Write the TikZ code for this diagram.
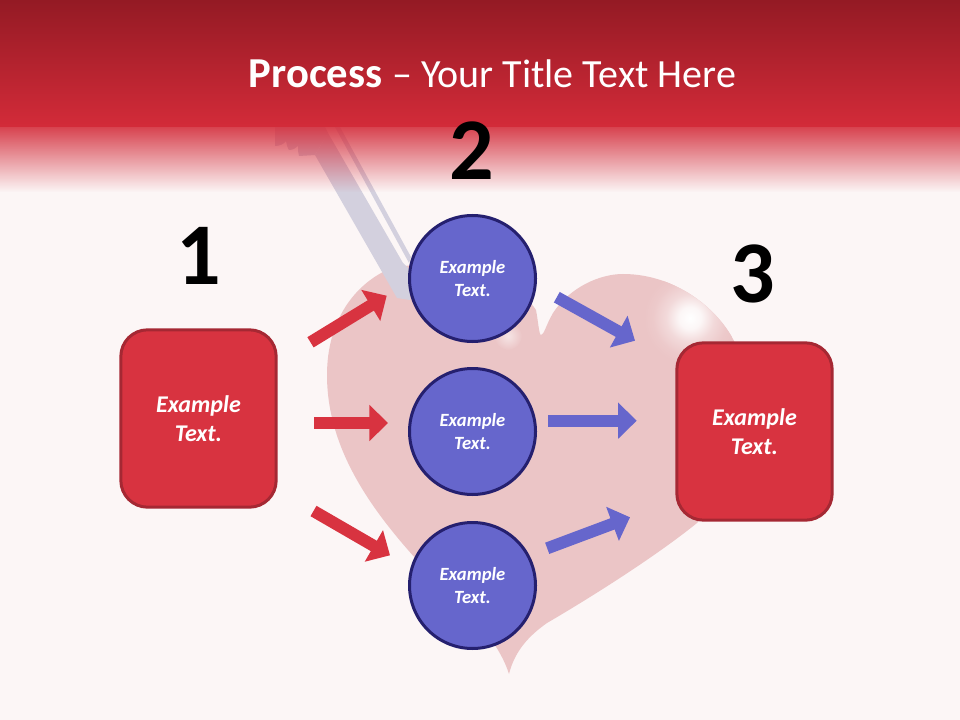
\documentclass[tikz,border=0pt]{standalone}
\usepackage{fontspec}
\setmainfont{Carlito}
\usepackage{xcolor}
\usepackage{tikz}
\usetikzlibrary{arrows.meta,fadings}
\definecolor{pagebg}{HTML}{FCF6F6}
\definecolor{bandtop}{HTML}{941A24}
\definecolor{bandlow}{HTML}{D32B39}
\definecolor{heartbg}{HTML}{EBC5C6}
\definecolor{shaftbg}{HTML}{D3D0DE}
\definecolor{redfill}{HTML}{D83340}
\definecolor{redline}{HTML}{A52833}
\definecolor{bluefill}{HTML}{6666CC}
\definecolor{blueline}{HTML}{25206F}
\tikzfading[name=bandfade, top color=transparent!12, bottom color=transparent!100]
\pgfdeclareradialshading{heartglow}{\pgfpointorigin}{
  color(0bp)=(white);
  color(6bp)=(white!85!heartbg);
  color(13bp)=(white!35!heartbg);
  color(20bp)=(white!8!heartbg);
  color(25bp)=(heartbg);
  color(50bp)=(heartbg)}
\def\heartpath{(509,674) .. controls (503,655) and (490,635) .. (470,615)
  .. controls (400,545) and (327,470) .. (327,375)
  .. controls (327,320) and (355,285) .. (387,270)
  .. controls (420,257) and (510,270) .. (536,310)
  .. controls (538,320) and (539,335) .. (541,335)
  .. controls (544,335) and (546,325) .. (553,313)
  .. controls (570,287) and (600,274) .. (623,274)
  .. controls (680,274) and (725,315) .. (738,350)
  .. controls (750,385) and (750,470) .. (697,523)
  .. controls (660,553) and (600,592) .. (547,623)
  .. controls (530,635) and (515,650) .. (509,674) -- cycle}
\tikzset{
  stepbox/.style={
    draw=redline, fill=redfill, line width=2.25pt, rounded corners=20pt,
    minimum width=116.5pt, minimum height=133pt, inner sep=0pt,
    text=white, align=center,
    font=\fontsize{18}{21.5}\selectfont\bfseries\itshape
  },
  ball/.style={
    circle, draw=blueline, fill=bluefill, line width=2.25pt,
    minimum size=94.5pt, inner sep=0pt,
    text=white, align=center,
    font=\fontsize{14}{17.2}\selectfont\bfseries\itshape
  },
  numtag/.style={anchor=base, text=black, font=\fontsize{66}{66}\selectfont\bfseries},
  redarrow/.style={draw=redfill, line width=9pt, -{Triangle[length=14pt,width=26.5pt]}},
  bluearrow/.style={draw=bluefill, line width=9pt, -{Triangle[length=14pt,width=26.5pt]}}
}
\begin{document}
\begin{tikzpicture}[x=0.75pt,y=-0.75pt]
  \fill[pagebg] (0,0) rectangle (960,720);

  \fill[heartbg] \heartpath;
  \begin{scope}
    \clip \heartpath;
    \shade[shading=heartglow] (690,318) circle (46);
    \shade[inner color=white!55!heartbg, outer color=heartbg] (508,336) circle (14);
  \end{scope}

  \fill[shaftbg] (315,155) -- (397,298) -- (410,300) -- (410,270) -- (403,263) -- (328,133) -- cycle;
  \fill[shaftbg] (335,127) -- (340,127) -- (411,257) -- (409,263) -- cycle;
  \fill[shaftbg] (275,127) -- (275,146) .. controls (280,146) and (284,144) .. (286,141)
    .. controls (287,146) and (288,149) .. (289,150) .. controls (293,150) and (296,148) .. (298,146)
    .. controls (298,150) and (298,153) .. (299,156)
    -- (315,155) -- (328,133) -- (325,127) -- cycle;

  \fill[bandlow, path fading=bandfade] (0,127) rectangle (960,192);
  \shade[top color=bandtop, bottom color=bandlow] (0,0) rectangle (960,127);

  \node[anchor=base, text=white, font=\fontsize{30}{36}\selectfont] (title) at (492.5,88)
    {\fontsize{32}{36}\selectfont\textbf{Process} \fontsize{30}{36}\selectfont-- Your Title Text Here};

  \node[numtag] (num1) at (199,285) {1};
  \node[numtag] (num2) at (472,180) {2};
  \node[numtag] (num3) at (753,302) {3};

  \node[stepbox] (boxl) at (198.5,418.5) {Example\\Text.};
  \node[stepbox] (boxr) at (754.5,431.5) {Example\\Text.};

  \foreach \n/\y in {1/278.5,2/431.5,3/585.5}{
    \node[ball] (ball\n) at (472.5,\y) {Example\\Text.};
  }

  \coordinate (rt1) at (310.5,342.3);
  \coordinate (rh1) at (386.7,295.7);
  \coordinate (rt2) at (314,423);
  \coordinate (rh2) at (388,423);
  \coordinate (rt3) at (313.5,511);
  \coordinate (rh3) at (390,555.3);
  \coordinate (bt1) at (556.8,297.2);
  \coordinate (bh1) at (635,340.7);
  \coordinate (bt2) at (548,420.7);
  \coordinate (bh2) at (636.7,420.7);
  \coordinate (bt3) at (547.2,548.3);
  \coordinate (bh3) at (630,517.3);

  \foreach \i in {1,2,3}{
    \draw[redarrow] (rt\i) -- (rh\i);
    \draw[bluearrow] (bt\i) -- (bh\i);
  }
\end{tikzpicture}
\end{document}
